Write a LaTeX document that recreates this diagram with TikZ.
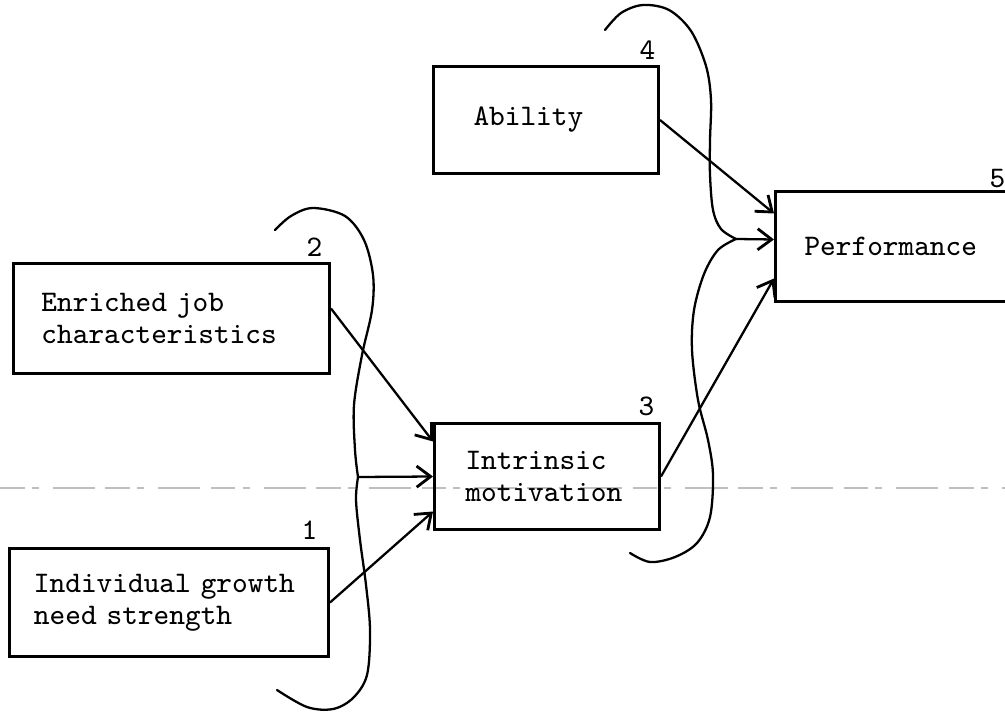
\documentclass[tikz,border=0pt]{standalone}
\usepackage{xcolor}
\usepackage{tikz}
\usetikzlibrary{arrows.meta, positioning}
\newcommand{\typed}{\fontsize{8.5pt}{9.1pt}\selectfont\ttfamily}

\begin{document}
\begin{tikzpicture}[x=0.1mm, y=-0.1mm,
        boxnode/.style={rectangle, draw=black, line width=0.85pt, anchor=north west, align=left, font=\typed},
        numlabel/.style={inner sep=0pt, font=\typed},
        link/.style={draw=black, line width=0.65pt, -{Straight Barb[length=4pt, width=6pt, line width=0.8pt]}},
        swirl/.style={draw=black, line width=0.65pt, line cap=round},
        scanline/.style={draw=black!25, line width=0.35pt, dash pattern=on 7pt off 2pt on 2pt off 4pt on 12pt off 3pt}]

    \useasboundingbox (0,0) rectangle (1005,713);

    % faint fold line of the scan
    \path[scanline] (0,488) -- (1005,488);

    % Boxes
    \node[boxnode, inner xsep=2.8mm, text width=26mm, minimum height=11mm] (enriched) at (12,262) {Enriched job\\characteristics};
    \node[boxnode, inner xsep=2.45mm, text width=27mm, minimum height=10.8mm] (growth) at (8,547) {Individual growth\\need strength};
    \node[boxnode, inner xsep=3.1mm, text width=16.3mm, minimum height=10.6mm] (intrinsic) at (433,422) {Intrinsic\\motivation};
    \node[boxnode, inner xsep=4mm, text width=14.5mm, minimum height=10.7mm] (ability) at (432,65) {Ability};
    \node[boxnode, inner xsep=2.9mm, text width=18.3mm, minimum height=11mm] (perf) at (774,190) {Performance};

    % Numbers
    \node[numlabel, above left=0.5mm and 0.8mm of enriched.north east] (n2) {2};
    \node[numlabel, above left=0.7mm and 1.2mm of growth.north east] (n1) {1};
    \node[numlabel, above left=0.5mm and 0.6mm of intrinsic.north east] (n3) {3};
    \node[numlabel, above left=0.5mm and 0.4mm of ability.north east] (n4) {4};
    \node[numlabel, above left=0.1mm and 1.2mm of perf.north east] (n5) {5};

    % Interaction braces
    \coordinate (ljoin) at (358,477);
    \coordinate (rjoin) at (736,239);
    \draw[swirl] plot[smooth, tension=0.55] coordinates {(275,230) (291,216) (313,208) (345,216) (364,240) (373,275) (372,310) (362,355) (354,405) (355,450) (ljoin)};
    \draw[swirl] plot[smooth, tension=0.55] coordinates {(ljoin) (356,500) (360,540) (366,585) (370,630) (367,675) (353,698) (333,709) (307,707) (277,690)};
    \draw[swirl] plot[smooth, tension=0.55] coordinates {(605,30) (621,13) (643,5) (669,10) (691,31) (706,66) (711,100) (710,140) (710,175) (713,210) (721,229) (rjoin)};
    \draw[swirl] plot[smooth, tension=0.55] coordinates {(rjoin) (718,250) (704,274) (694,310) (692,350) (698,400) (708,440) (713,475) (710,517) (697,543) (675,557) (650,562) (630,553)};

    % Arrows
    \path[link] ([yshift=1mm]enriched.east) -- ([yshift=3.5mm]intrinsic.west);
    \path[link] (ljoin) -- (intrinsic.west);
    \path[link] (growth.east) -- ([yshift=-3.5mm]intrinsic.west);
    \path[link] (ability.east) -- ([yshift=3.3mm]perf.west);
    \path[link] (rjoin) -- ([yshift=0.7mm]perf.west);
    \path[link] (intrinsic.east) -- ([yshift=-3.2mm]perf.west);
\end{tikzpicture}
\end{document}
